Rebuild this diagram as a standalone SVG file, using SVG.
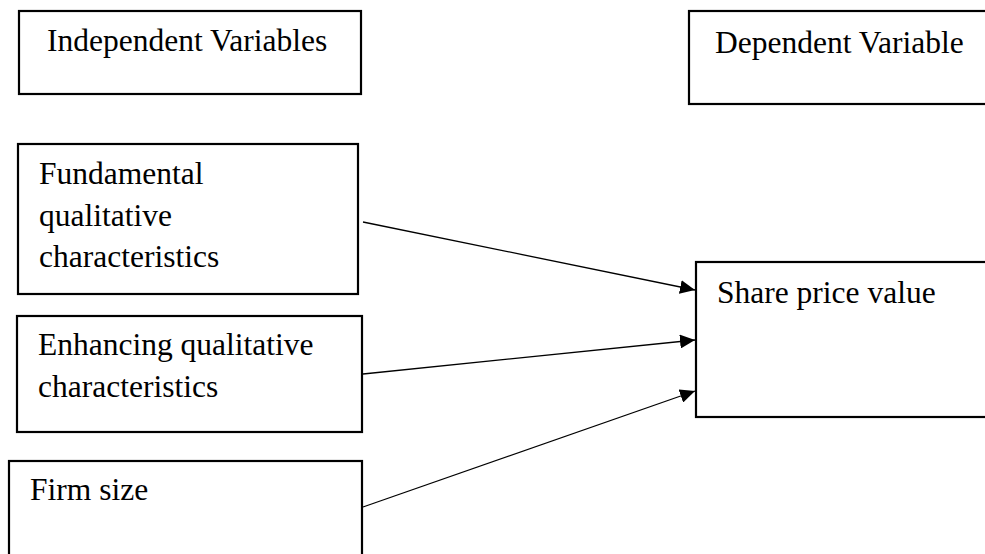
<svg xmlns="http://www.w3.org/2000/svg" width="985" height="554" viewBox="0 0 985 554">
<style>
.box{fill:#fff;stroke:#000;stroke-width:2.2}
.t{font-family:"Liberation Serif","Times New Roman",serif;font-size:31.5px;fill:#000}
.c{stroke:#000;stroke-width:1.3;fill:none}
</style>
<defs>
<marker id="ah" markerUnits="userSpaceOnUse" markerWidth="16" markerHeight="14" refX="15" refY="7" orient="auto">
<path d="M0,0 L15,7 L0,14 Z" fill="#000"/>
</marker>
</defs>
<rect width="985" height="554" fill="#fff"/>
<g id="independent">
<rect class="box" x="19" y="11" width="342" height="83"/>
<text class="t" x="47" y="51">Independent Variables</text>
</g>
<g id="dependent">
<rect class="box" x="689" y="11" width="310" height="93"/>
<text class="t" x="715" y="53">Dependent Variable</text>
</g>
<g id="fundamental">
<rect class="box" x="18" y="144" width="340" height="150"/>
<text class="t" x="39" y="184">Fundamental</text>
<text class="t" x="39" y="226">qualitative</text>
<text class="t" x="39" y="267">characteristics</text>
</g>
<g id="enhancing">
<rect class="box" x="17" y="316" width="345" height="116"/>
<text class="t" x="38" y="355">Enhancing qualitative</text>
<text class="t" x="38" y="397">characteristics</text>
</g>
<g id="firmsize">
<rect class="box" x="9" y="461" width="353" height="110"/>
<text class="t" x="30" y="500">Firm size</text>
</g>
<g id="shareprice">
<rect class="box" x="696" y="262" width="310" height="155"/>
<text class="t" x="717" y="303">Share price value</text>
</g>
<g id="connectors">
<line class="c" x1="363" y1="222" x2="695" y2="290" marker-end="url(#ah)"/>
<line class="c" x1="363" y1="374" x2="695" y2="340" marker-end="url(#ah)"/>
<line class="c" x1="363" y1="507" x2="695" y2="391" marker-end="url(#ah)"/>
</g>
</svg>
